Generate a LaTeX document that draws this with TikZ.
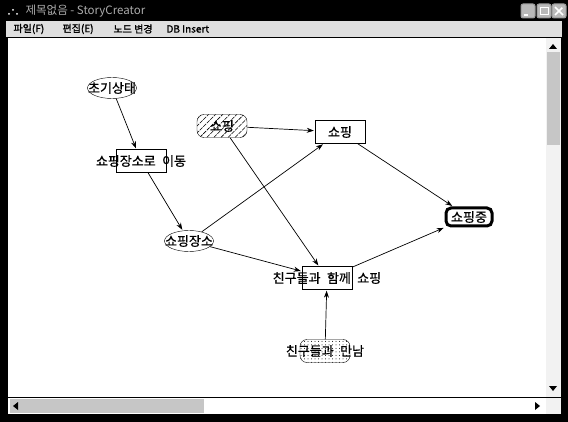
\documentclass[tikz,border=0pt]{standalone}
\usepackage{fontspec}
\setmainfont{Noto Sans CJK KR}[WordSpace=2.2,FakeBold=0.8]
\newfontfamily\menufont{Noto Sans CJK KR}[FakeBold=1.5]
\newfontfamily\titlefont{Noto Sans CJK KR}
\usepackage{tikz}
\usetikzlibrary{
        arrows.meta,
        patterns.meta,
        shapes,
        shapes.geometric
    }
\tikzset{>={Stealth[length=7pt,width=5pt]},shorten >=1pt,auto}
\tikzset{
    every node/.style={font=\fontsize{13}{15}\selectfont},
    ell/.style={ellipse,draw,thin,minimum width=49pt,minimum height=21pt,inner sep=0pt},
    box/.style={rectangle,draw,thin,minimum width=50pt,minimum height=23pt,inner sep=0pt},
    rbox/.style={box,rounded corners=7pt},
    goal/.style={box,rounded corners=5pt,line width=3pt,minimum width=46pt,minimum height=18pt},
    menu/.style={anchor=west,font=\menufont\fontsize{10}{12}\selectfont},
    btn/.style={draw=gray!80,fill=gray!55,rounded corners=2pt,line width=1pt}
}

\begin{document}
\begin{tikzpicture}[x=1pt,y=-1pt]
                \useasboundingbox (0,0) rectangle (568,422);
                % window
                \fill[black] (0,0) rectangle (568,422);
                \fill[gray!25] (6,21) rectangle (562,37);
                \fill[white] (8,38) rectangle (546,397);
                \fill[gray!10] (546,38) rectangle (561,397);
                \fill[gray!45] (547,52) rectangle (560,145);
                \fill[white] (8,398) rectangle (546,414);
                \fill[gray!45] (10,399) rectangle (204,413);
                \fill[gray!10] (546,398) rectangle (561,414);
                \fill (549,49) -- (553,44) -- (557,49) -- cycle;
                \fill (549,386) -- (553,391) -- (557,386) -- cycle;
                \fill (18,402) -- (13,406) -- (18,410) -- cycle;
                \fill (535,402) -- (540,406) -- (535,410) -- cycle;
                \fill[white] (9,14) circle (1pt) (13,10) circle (1pt) (17,14) circle (1pt);
                \node[anchor=west,text=gray!65,font=\titlefont\fontsize{11.5}{13}\selectfont] (title) at (22,11) {제목없음 - StoryCreator};
                \draw[btn] (521,4) rectangle (535,18);
                \draw[btn] (537,4) rectangle (551,18);
                \draw[btn] (552,4) rectangle (566,18);
                \draw[white,line width=1.5pt] (524,15) -- (529,15);
                \draw[white,line width=1pt] (540,8) rectangle (548,15);
                \draw[white,line width=1.5pt] (555,7) -- (563,15) (555,15) -- (563,7);
                \node[menu] (file) at (10,29) {파일(F)};
                \node[menu] (edit) at (59,29) {편집(E)};
                \node[menu] (change) at (110,29) {노드 변경};
                \node[menu] (insert) at (163,29) {DB Insert};
                % story graph
                \node[ell,label=center:초기상태] (init) at (112,88) {};
                \node[box,label=center:쇼핑장소로 이동] (move) at (141,161) {};
                \node[rbox,pattern={Lines[angle=45,distance=5pt,line width=0.6pt]},label=center:쇼핑] (want) at (222,126) {};
                \node[box,label=center:쇼핑] (shop) at (340,132) {};
                \node[ell,label=center:쇼핑장소] (place) at (189,241) {};
                \node[box,label=center:친구들과 함께 쇼핑] (friends) at (327,278) {};
                \node[goal,label=center:쇼핑중] (end) at (469,217) {};
                \node[rbox,pattern={Dots[distance=3.5pt,radius=0.5pt]},label=center:친구들과 만남] (meet) at (325,351) {};
                \path[->,line width=0.7pt]
                        (init)    edge (move)
                        (move)    edge (place)
                        (want)    edge (shop)
                        (want)    edge (friends)
                        (place)   edge (shop)
                        (place)   edge (friends)
                        (shop)    edge (end)
                        (friends) edge (end)
                        (meet)    edge (friends)
                ;
            \end{tikzpicture}
\end{document}
